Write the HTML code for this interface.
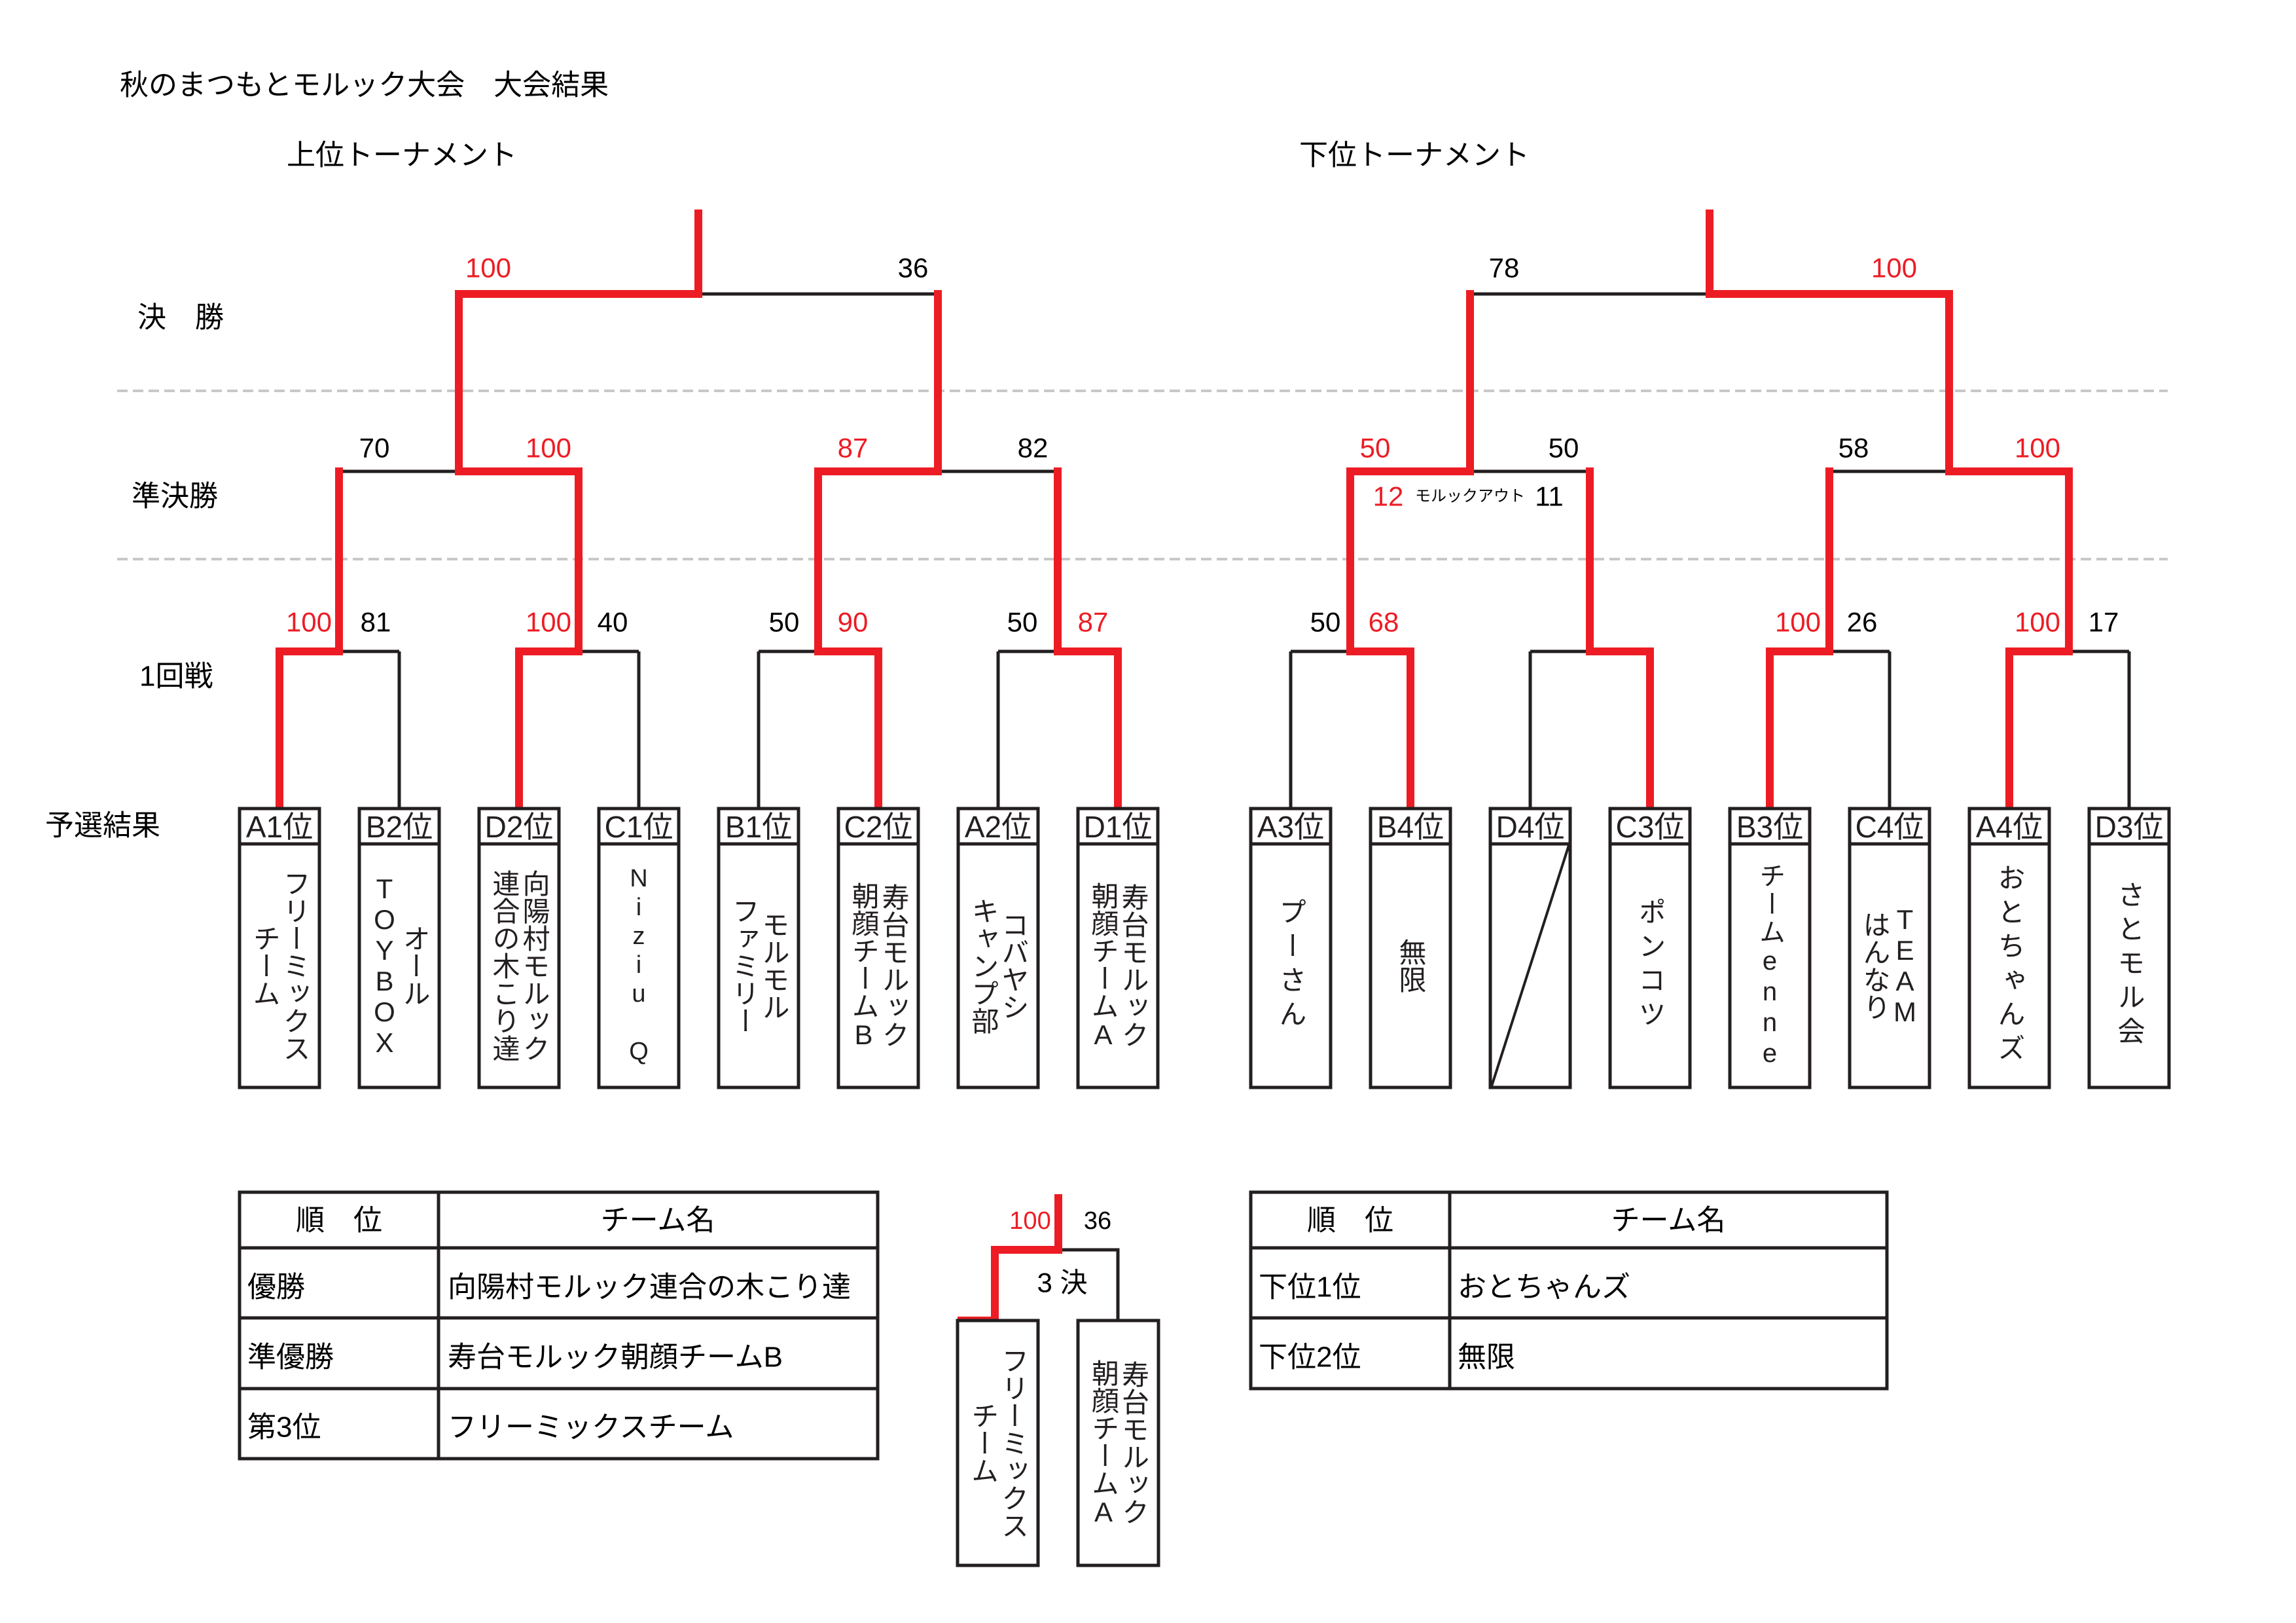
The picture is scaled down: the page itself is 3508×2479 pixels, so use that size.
<!DOCTYPE html>
<html><head><meta charset="utf-8">
<style>
html,body{margin:0;padding:0;background:#fff;}
body{width:3508px;height:2479px;position:relative;overflow:hidden;font-family:"Liberation Sans","Noto Sans CJK JP",sans-serif;color:#231f20;}
svg{position:absolute;left:0;top:0;}
.nm{position:absolute;top:1289px;height:372px;width:122px;display:flex;justify-content:center;align-items:center;}
.nm3{position:absolute;top:2017px;height:374px;width:123px;display:flex;justify-content:center;align-items:center;}
.v{writing-mode:vertical-rl;text-orientation:upright;font-size:42px;line-height:46px;text-align:center;white-space:nowrap;}
.w{letter-spacing:10px;}
</style></head><body>
<svg width="3508" height="2479" viewBox="0 0 3508 2479" font-family="Liberation Sans, Noto Sans CJK JP, sans-serif">
<g stroke="#c8c8c8" stroke-width="4" stroke-dasharray="16 8">
<line x1="179" y1="597" x2="3312" y2="597"/>
<line x1="179" y1="854" x2="3312" y2="854"/>
</g>
<g stroke="#231f20" stroke-width="5" fill="none">
<line x1="610" y1="995" x2="610" y2="1235"/>
<line x1="976" y1="995" x2="976" y2="1235"/>
<line x1="1159" y1="995" x2="1159" y2="1235"/>
<line x1="1525" y1="995" x2="1525" y2="1235"/>
<line x1="518" y1="995" x2="610" y2="995"/>
<line x1="884" y1="995" x2="976" y2="995"/>
<line x1="1159" y1="995" x2="1250" y2="995"/>
<line x1="1525" y1="995" x2="1616" y2="995"/>
<line x1="518" y1="720" x2="701" y2="720"/>
<line x1="1433" y1="720" x2="1616" y2="720"/>
<line x1="1067" y1="449" x2="1433" y2="449"/>
<line x1="1972" y1="995" x2="1972" y2="1235"/>
<line x1="1972" y1="995" x2="2063" y2="995"/>
<line x1="2338" y1="995" x2="2338" y2="1235"/>
<line x1="2338" y1="995" x2="2429" y2="995"/>
<line x1="2887" y1="995" x2="2887" y2="1235"/>
<line x1="2795" y1="995" x2="2887" y2="995"/>
<line x1="3253" y1="995" x2="3253" y2="1235"/>
<line x1="3161" y1="995" x2="3253" y2="995"/>
<line x1="2246" y1="720" x2="2429" y2="720"/>
<line x1="2795" y1="720" x2="2978" y2="720"/>
<line x1="2246" y1="449" x2="2612" y2="449"/>
<polyline points="1617,1909 1708,1909 1708,2017"/>
</g>
<g stroke="#ed1c24" stroke-width="12" fill="none" stroke-linejoin="miter" stroke-linecap="square">
<polyline points="427,1232 427,995 518,995 518,720"/>
<polyline points="793,1232 793,995 884,995 884,720 701,720 701,449 1067,449 1067,326"/>
<polyline points="1342,1232 1342,995 1250,995 1250,720 1433,720 1433,449"/>
<polyline points="1708,1232 1708,995 1616,995 1616,720"/>
<polyline points="2155,1232 2155,995 2063,995 2063,720 2246,720 2246,449"/>
<polyline points="2521,1232 2521,995 2429,995 2429,720"/>
<polyline points="2704,1232 2704,995 2795,995 2795,720"/>
<polyline points="3070,1232 3070,995 3161,995 3161,720 2978,720 2978,449 2612,449 2612,326"/>
<polyline points="1469,2017 1520,2017 1520,1909 1617,1909 1617,1830"/>
</g>
<g stroke="#231f20" stroke-width="5" fill="#fff">
<rect x="366" y="1235" width="122" height="426"/><rect x="549" y="1235" width="122" height="426"/>
<rect x="732" y="1235" width="122" height="426"/><rect x="915" y="1235" width="122" height="426"/>
<rect x="1098" y="1235" width="122" height="426"/><rect x="1281" y="1235" width="122" height="426"/>
<rect x="1464" y="1235" width="122" height="426"/><rect x="1647" y="1235" width="122" height="426"/>
<rect x="1911" y="1235" width="122" height="426"/><rect x="2094" y="1235" width="122" height="426"/>
<rect x="2277" y="1235" width="122" height="426"/><rect x="2460" y="1235" width="122" height="426"/>
<rect x="2643" y="1235" width="122" height="426"/><rect x="2826" y="1235" width="122" height="426"/>
<rect x="3009" y="1235" width="122" height="426"/><rect x="3192" y="1235" width="122" height="426"/>
<rect x="1463" y="2017" width="123" height="374"/><rect x="1647" y="2017" width="123" height="374"/>
</g>
<g stroke="#231f20" stroke-width="5">
<line x1="366" y1="1289" x2="488" y2="1289"/><line x1="549" y1="1289" x2="671" y2="1289"/>
<line x1="732" y1="1289" x2="854" y2="1289"/><line x1="915" y1="1289" x2="1037" y2="1289"/>
<line x1="1098" y1="1289" x2="1220" y2="1289"/><line x1="1281" y1="1289" x2="1403" y2="1289"/>
<line x1="1464" y1="1289" x2="1586" y2="1289"/><line x1="1647" y1="1289" x2="1769" y2="1289"/>
<line x1="1911" y1="1289" x2="2033" y2="1289"/><line x1="2094" y1="1289" x2="2216" y2="1289"/>
<line x1="2277" y1="1289" x2="2399" y2="1289"/><line x1="2460" y1="1289" x2="2582" y2="1289"/>
<line x1="2643" y1="1289" x2="2765" y2="1289"/><line x1="2826" y1="1289" x2="2948" y2="1289"/>
<line x1="3009" y1="1289" x2="3131" y2="1289"/><line x1="3192" y1="1289" x2="3314" y2="1289"/>
</g>
<line x1="2279" y1="1659" x2="2397" y2="1291" stroke="#231f20" stroke-width="4"/>
<g stroke="#231f20" stroke-width="5" fill="none">
<rect x="366" y="1821" width="975" height="407"/>
<line x1="670" y1="1821" x2="670" y2="2228"/>
<line x1="366" y1="1906" x2="1341" y2="1906"/>
<line x1="366" y1="2013" x2="1341" y2="2013"/>
<line x1="366" y1="2121" x2="1341" y2="2121"/>
<rect x="1911" y="1821" width="972" height="300"/>
<line x1="2215" y1="1821" x2="2215" y2="2121"/>
<line x1="1911" y1="1906" x2="2883" y2="1906"/>
<line x1="1911" y1="2013" x2="2883" y2="2013"/>
</g>
<g font-size="46" text-anchor="middle" fill="#231f20" dominant-baseline="central">
<text x="427" y="1263">A1位</text><text x="610" y="1263">B2位</text><text x="793" y="1263">D2位</text><text x="976" y="1263">C1位</text>
<text x="1159" y="1263">B1位</text><text x="1342" y="1263">C2位</text><text x="1525" y="1263">A2位</text><text x="1708" y="1263">D1位</text>
<text x="1972" y="1263">A3位</text><text x="2155" y="1263">B4位</text><text x="2338" y="1263">D4位</text><text x="2521" y="1263">C3位</text>
<text x="2704" y="1263">B3位</text><text x="2887" y="1263">C4位</text><text x="3070" y="1263">A4位</text><text x="3253" y="1263">D3位</text>
</g>
<g font-size="42" text-anchor="middle" dominant-baseline="central">
<text x="746" y="409" fill="#ed1c24">100</text><text x="1395" y="409">36</text>
<text x="2298" y="409">78</text><text x="2894" y="409" fill="#ed1c24">100</text>
<text x="572" y="684">70</text><text x="838" y="684" fill="#ed1c24">100</text>
<text x="1303" y="684" fill="#ed1c24">87</text><text x="1578" y="684">82</text>
<text x="2101" y="684" fill="#ed1c24">50</text><text x="2389" y="684">50</text>
<text x="2832" y="684">58</text><text x="3113" y="684" fill="#ed1c24">100</text>
<text x="2121" y="758" fill="#ed1c24">12</text><text x="2246" y="758" font-size="24">モルックアウト</text><text x="2367" y="758">11</text>
<text x="472" y="950" fill="#ed1c24">100</text><text x="574" y="950">81</text>
<text x="838" y="950" fill="#ed1c24">100</text><text x="936" y="950">40</text>
<text x="1198" y="950">50</text><text x="1303" y="950" fill="#ed1c24">90</text>
<text x="1562" y="950">50</text><text x="1670" y="950" fill="#ed1c24">87</text>
<text x="2025" y="950">50</text><text x="2114" y="950" fill="#ed1c24">68</text>
<text x="2747" y="950" fill="#ed1c24">100</text><text x="2845" y="950">26</text>
<text x="3113" y="950" fill="#ed1c24">100</text><text x="3214" y="950">17</text>
<text x="1574" y="1865" fill="#ed1c24" font-size="38">100</text><text x="1677" y="1865" font-size="38">36</text>
<text x="1623" y="1959">3 決</text>
</g>
<g font-size="44" dominant-baseline="central">
<text x="183" y="130">秋のまつもとモルック大会　大会結果</text>
<text x="438" y="237">上位トーナメント</text>
<text x="1985" y="237">下位トーナメント</text>
<text x="210" y="485">決　勝</text>
<text x="201" y="758">準決勝</text>
<text x="213" y="1033">1回戦</text>
<text x="69" y="1261">予選結果</text>
<text x="518" y="1864" text-anchor="middle">順　位</text>
<text x="1005" y="1864" text-anchor="middle">チーム名</text>
<text x="378" y="1966">優勝</text>
<text x="684" y="1966">向陽村モルック連合の木こり達</text>
<text x="378" y="2073">準優勝</text>
<text x="684" y="2073">寿台モルック朝顔チームB</text>
<text x="378" y="2180">第3位</text>
<text x="684" y="2180">フリーミックスチーム</text>
<text x="2063" y="1864" text-anchor="middle">順　位</text>
<text x="2549" y="1864" text-anchor="middle">チーム名</text>
<text x="1923" y="1966">下位1位</text>
<text x="2227" y="1966">おとちゃんズ</text>
<text x="1923" y="2073">下位2位</text>
<text x="2227" y="2073">無限</text>
</g>
</svg>
<div class="nm" style="left:366px"><div class="v">フリーミックス<br>チーム</div></div>
<div class="nm" style="left:549px"><div class="v">オール<br>TOYBOX</div></div>
<div class="nm" style="left:732px"><div class="v">向陽村モルック<br>連合の木こり達</div></div>
<div class="nm" style="left:915px"><div class="v" style="font-size:38px;letter-spacing:2px">Niziu Q</div></div>
<div class="nm" style="left:1098px"><div class="v">モルモル<br>ファミリー</div></div>
<div class="nm" style="left:1281px"><div class="v">寿台モルック<br>朝顔チームB</div></div>
<div class="nm" style="left:1464px"><div class="v">コバヤシ<br>キャンプ部</div></div>
<div class="nm" style="left:1647px"><div class="v">寿台モルック<br>朝顔チームA</div></div>
<div class="nm" style="left:1911px"><div class="v w">プーさん</div></div>
<div class="nm" style="left:2094px"><div class="v">無限</div></div>
<div class="nm" style="left:2460px"><div class="v w">ポンコツ</div></div>
<div class="nm" style="left:2643px"><div class="v" style="font-size:40px;letter-spacing:3px">チームenne</div></div>
<div class="nm" style="left:2826px"><div class="v">TEAM<br>はんなり</div></div>
<div class="nm" style="left:3009px"><div class="v w">おとちゃんズ</div></div>
<div class="nm" style="left:3192px"><div class="v w">さとモル会</div></div>
<div class="nm3" style="left:1463px"><div class="v">フリーミックス<br>チーム</div></div>
<div class="nm3" style="left:1647px"><div class="v">寿台モルック<br>朝顔チームA</div></div>
</body></html>
